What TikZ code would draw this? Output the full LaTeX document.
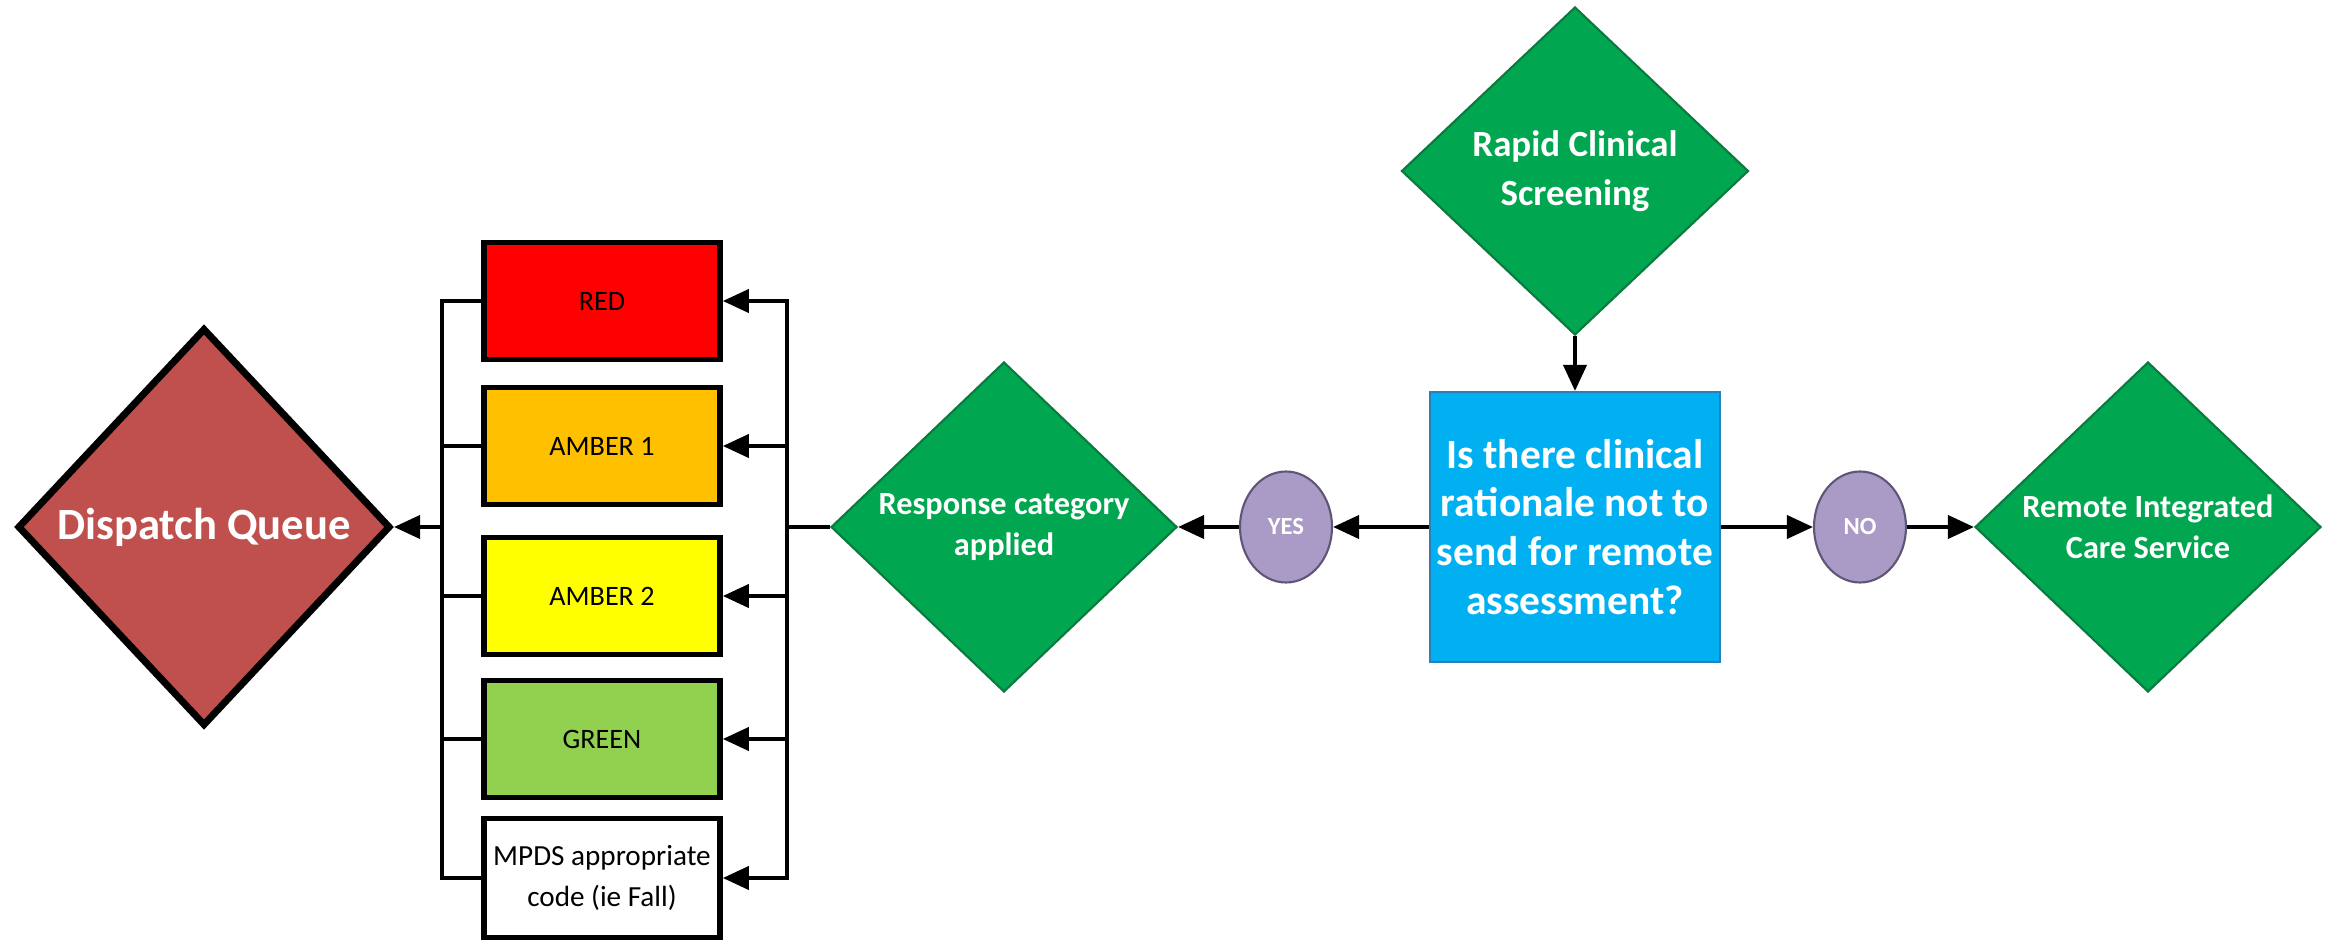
\documentclass[tikz,border=0pt]{standalone}
\usepackage{fontspec}
\setmainfont{Carlito}
\usepackage{tikz}
\usetikzlibrary{arrows.meta,positioning,shapes.geometric}
\definecolor{cdisp}{HTML}{C0504D}
\definecolor{cgreen}{HTML}{00A650}
\definecolor{cgreenln}{HTML}{0B7A3E}
\definecolor{cblue}{HTML}{00B0F0}
\definecolor{cblueln}{HTML}{2A7FB8}
\definecolor{cpurple}{HTML}{A99BC6}
\definecolor{cpurpleln}{HTML}{5F5577}
\definecolor{cred}{HTML}{FF0000}
\definecolor{camber}{HTML}{FFC000}
\definecolor{cyellow}{HTML}{FFFF00}
\definecolor{clime}{HTML}{92D050}
\tikzset{
  >={Triangle[length=2.6mm,width=2.3mm]},
  link/.style={line width=1.1pt,black},
  dia/.style={diamond,draw=cgreenln,fill=cgreen,line width=0.6pt,inner sep=0pt,text=white,
    align=center,font=\fontsize{9.2}{11.6}\selectfont\bfseries,minimum width=3.46cm,minimum height=3.3cm},
  cat/.style={rectangle,draw=black,line width=1.6pt,minimum width=2.36cm,minimum height=1.17cm,
    inner sep=1pt,align=center,font=\fontsize{8}{11.4}\selectfont},
  ans/.style={ellipse,draw=cpurpleln,fill=cpurple,line width=0.6pt,minimum width=0.92cm,
    minimum height=1.11cm,inner sep=0pt,text=white,font=\fontsize{7}{8}\selectfont\bfseries},
}

\begin{document}
\begin{tikzpicture}
\useasboundingbox (0,0) rectangle (23.28,9.40);

% ================= LEFT : queue and categories =================
\node[diamond,draw=black,fill=cdisp,line width=2pt,inner sep=0pt,minimum width=3.73cm,minimum height=3.98cm,
  text=white,font=\fontsize{12.7}{15}\selectfont\bfseries] (queue) at (2.04,4.13) {Dispatch Queue};
\foreach \nm/\col/\yy/\txt in {red/cred/6.39/RED,amb1/camber/4.94/AMBER 1,amb2/cyellow/3.44/AMBER 2,grn/clime/2.01/GREEN}
  \node[cat,fill=\col] (\nm) at (6.02,\yy) {\txt};
\node[cat,fill=white,minimum height=1.19cm,font=\fontsize{8.3}{11.4}\selectfont] (mpds) at (6.02,0.62)
  {MPDS appropriate\\ code (ie Fall)};
\coordinate (lbus) at (4.42,4.13);
\coordinate (rbus) at (7.87,4.13);

% ================= RIGHT : screening and decision =================
\node[dia] (resp) at (10.04,4.13) {Response category\\ applied};
\node[ans] (yes) at (12.86,4.13) {YES};
\node[rectangle,draw=cblueln,fill=cblue,line width=0.6pt,minimum width=2.9cm,minimum height=2.7cm,inner sep=0pt,
  text=white,align=center,font=\fontsize{11.8}{13.9}\selectfont\bfseries] (quest) at (15.75,4.13)
  {Is there clinical\\ rationale not to\\ send for remote\\ assessment?};
\node[dia,minimum width=3.47cm,minimum height=3.28cm,font=\fontsize{10.5}{13.9}\selectfont\bfseries] (rapid) at (15.75,7.69)
  {Rapid Clinical\\ Screening};
\node[ans] (no) at (18.60,4.13) {NO};
\node[dia] (remote) at (21.48,4.13) {Remote Integrated\\ Care Service};

% connectors
\draw[link,->] (rapid) -- (quest);
\draw[link,->] (quest) -- (yes);
\draw[link,->] (yes) -- (resp);
\draw[link,->] (quest) -- (no);
\draw[link,->] (no) -- (remote);
\draw[link] (resp) -- (rbus);
\foreach \b in {red,amb1,amb2,grn,mpds} {
  \draw[link,->] (rbus) |- (\b.east);
  \draw[link] (\b.west) -| (lbus);
}
\draw[link,->] (lbus) -- (queue);

\end{tikzpicture}
\end{document}
